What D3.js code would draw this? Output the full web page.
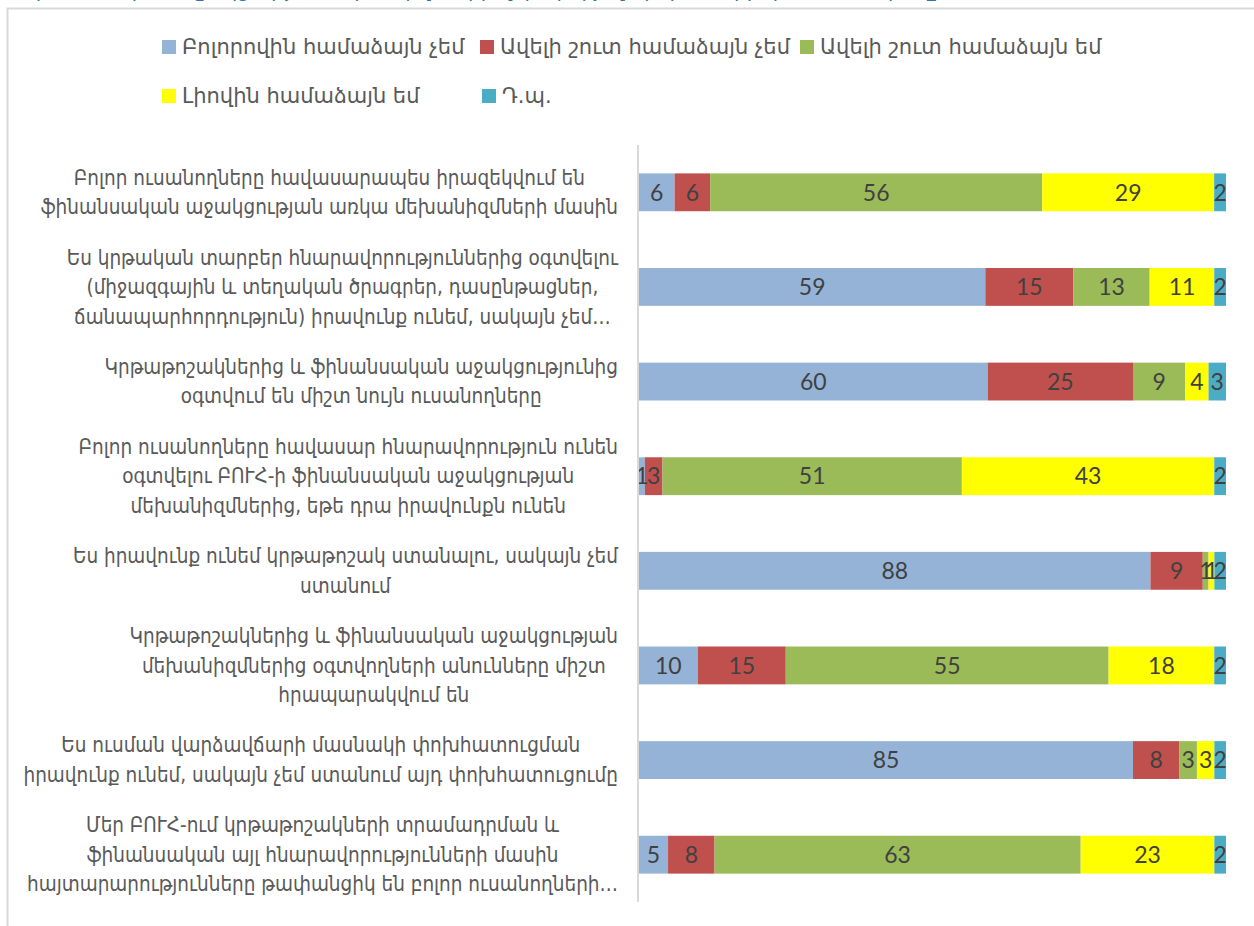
<!DOCTYPE html>
<html>
<head>
<meta charset="utf-8">
<title>Stacked bar</title>
<style>
    body { margin: 0; background: #fff; }
    svg { display: block; }
    .cat { font-family: "DejaVu Sans Condensed", "DejaVu Sans", sans-serif; font-size: 20.5px; fill: #595959; }
    .leg { font-family: "DejaVu Sans", sans-serif; font-size: 21px; fill: #595959; }
    .val { font-family: Lato, "DejaVu Sans", sans-serif; font-size: 23px; fill: #404040; }
</style>
<script src="https://d3js.org/d3.v7.min.js"></script>
</head>
<body>
<svg width="1254" height="926"></svg>
<script>
    // kategorier (rader med radbrytningar som i originalet)
    var categories = [
        ["Բոլոր ուսանողները հավասարապես իրազեկվում են", "ֆինանսական աջակցության առկա մեխանիզմների մասին"],
        ["Ես կրթական տարբեր հնարավորություններից օգտվելու", "(միջազգային և տեղական ծրագրեր, դասընթացներ,", "ճանապարհորդություն) իրավունք ունեմ, սակայն չեմ…"],
        ["Կրթաթոշակներից և ֆինանսական աջակցությունից", "օգտվում են միշտ նույն ուսանողները"],
        ["Բոլոր ուսանողները հավասար հնարավորություն ունեն", "օգտվելու ԲՈՒՀ-ի ֆինանսական աջակցության", "մեխանիզմներից, եթե դրա իրավունքն ունեն"],
        ["Ես իրավունք ունեմ կրթաթոշակ ստանալու, սակայն չեմ", "ստանում"],
        ["Կրթաթոշակներից և ֆինանսական աջակցության", "մեխանիզմներից օգտվողների անունները միշտ", "հրապարակվում են"],
        ["Ես ուսման վարձավճարի մասնակի փոխհատուցման", "իրավունք ունեմ, սակայն չեմ ստանում այդ փոխհատուցումը"],
        ["Մեր ԲՈՒՀ-ում կրթաթոշակների տրամադրման և", "ֆինանսական այլ հնարավորությունների մասին", "հայտարարությունները թափանցիկ են բոլոր ուսանողների…"]
    ];

    var seriesNames = ["Բոլորովին համաձայն չեմ", "Ավելի շուտ համաձայն չեմ", "Ավելի շուտ համաձայն եմ", "Լիովին համաձայն եմ", "Դ.պ."];
    var colors = ["#95B3D7", "#C0504D", "#9BBB59", "#FFFF00", "#4BACC6"];

    var strongDisagree = [6, 59, 60, 1, 88, 10, 85, 5];
    var ratherDisagree = [6, 15, 25, 3, 9, 15, 8, 8];
    var ratherAgree    = [56, 13, 9, 51, 1, 55, 3, 63];
    var fullyAgree     = [29, 11, 4, 43, 1, 18, 3, 23];
    var dontKnow       = [2, 2, 3, 2, 2, 2, 2, 2];

    var titleText = "Ֆինանսական աջակցության մեխանիզմների վերաբերյալ պնդումների գնահատականը (%)";

    var seriesValues = [strongDisagree, ratherDisagree, ratherAgree, fullyAgree, dontKnow];
    var keys = seriesNames.map(function(d, i) { return "s" + i; });
    var table = categories.map(function(c, j) {
        var row = { idx: j };
        keys.forEach(function(k, i) { row[k] = seriesValues[i][j]; });
        return row;
    });

    var svg = d3.select("svg");

    // titel (avskuren uppe)
    svg.append("text")
        .attr("x", 20).attr("y", -3)
        .style("font-family", "'DejaVu Sans Condensed', 'DejaVu Sans', sans-serif")
        .style("font-size", "22px")
        .style("fill", "#2E74B5")
        .text(titleText);

    // ram
    svg.append("path")
        .attr("d", "M7.5,926 V8.5 H1254")
        .attr("fill", "none")
        .attr("stroke", "#d9d9d9")
        .attr("stroke-width", 2);

    var x = d3.scaleLinear().domain([0, 1]).range([639, 1226]);
    var y = d3.scaleBand().domain(d3.range(categories.length)).range([145, 902])
        .paddingInner(0.6).paddingOuter(0.3);

    var stack = d3.stack().keys(keys).offset(d3.stackOffsetExpand);
    var layers = stack(table);

    var g = svg.selectAll("g.layer")
        .data(layers)
        .enter().append("g")
        .attr("class", "layer")
        .attr("fill", function(d, i) { return colors[i]; });

    g.selectAll("rect")
        .data(function(d) { return d; })
        .enter().append("rect")
        .attr("x", function(d) { return x(d[0]); })
        .attr("y", function(d) { return y(d.data.idx); })
        .attr("width", function(d) { return x(d[1]) - x(d[0]); })
        .attr("height", y.bandwidth());

    // värdeetiketter
    layers.forEach(function(layer, i) {
        svg.selectAll("text.v" + i)
            .data(layer)
            .enter().append("text")
            .attr("class", "val v" + i)
            .attr("x", function(d) { return (x(d[0]) + x(d[1])) / 2; })
            .attr("y", function(d) { return y(d.data.idx) + y.bandwidth() / 2; })
            .attr("text-anchor", "middle")
            .attr("dy", "0.36em")
            .text(function(d) { return d.data[layer.key]; });
    });

    // axellinje
    svg.append("line")
        .attr("x1", 638).attr("x2", 638)
        .attr("y1", 145).attr("y2", 902)
        .attr("stroke", "#d9d9d9")
        .attr("stroke-width", 2);

    // kategorietiketter, centrerade rader, blocket högerjusterat mot axeln
    var lineH = 29.5;
    categories.forEach(function(lines, j) {
        var t = svg.append("text").attr("class", "cat").attr("text-anchor", "middle");
        var cy = y(j) + y.bandwidth() / 2;
        var top = cy - (lines.length - 1) * lineH / 2;
        var spans = lines.map(function(l, k) {
            return t.append("tspan").attr("y", top + k * lineH).attr("dy", "0.35em").text(l);
        });
        var w = d3.max(spans, function(s) { return s.node().getComputedTextLength(); });
        var cx = 618 - w / 2;
        spans.forEach(function(s) { s.attr("x", cx); });
    });

    // förklaring
    var legendPos = [[162, 47], [480, 47], [800, 47], [162, 96], [482, 96]];
    var leg = svg.selectAll("g.leg")
        .data(seriesNames)
        .enter().append("g")
        .attr("transform", function(d, i) { return "translate(" + legendPos[i][0] + "," + legendPos[i][1] + ")"; });
    leg.append("rect")
        .attr("x", 0).attr("y", -7)
        .attr("width", 14).attr("height", 14)
        .attr("fill", function(d, i) { return colors[i]; });
    leg.append("text")
        .attr("class", "leg")
        .attr("x", 20).attr("dy", "0.35em")
        .text(function(d) { return d; });
</script>
</body>
</html>
